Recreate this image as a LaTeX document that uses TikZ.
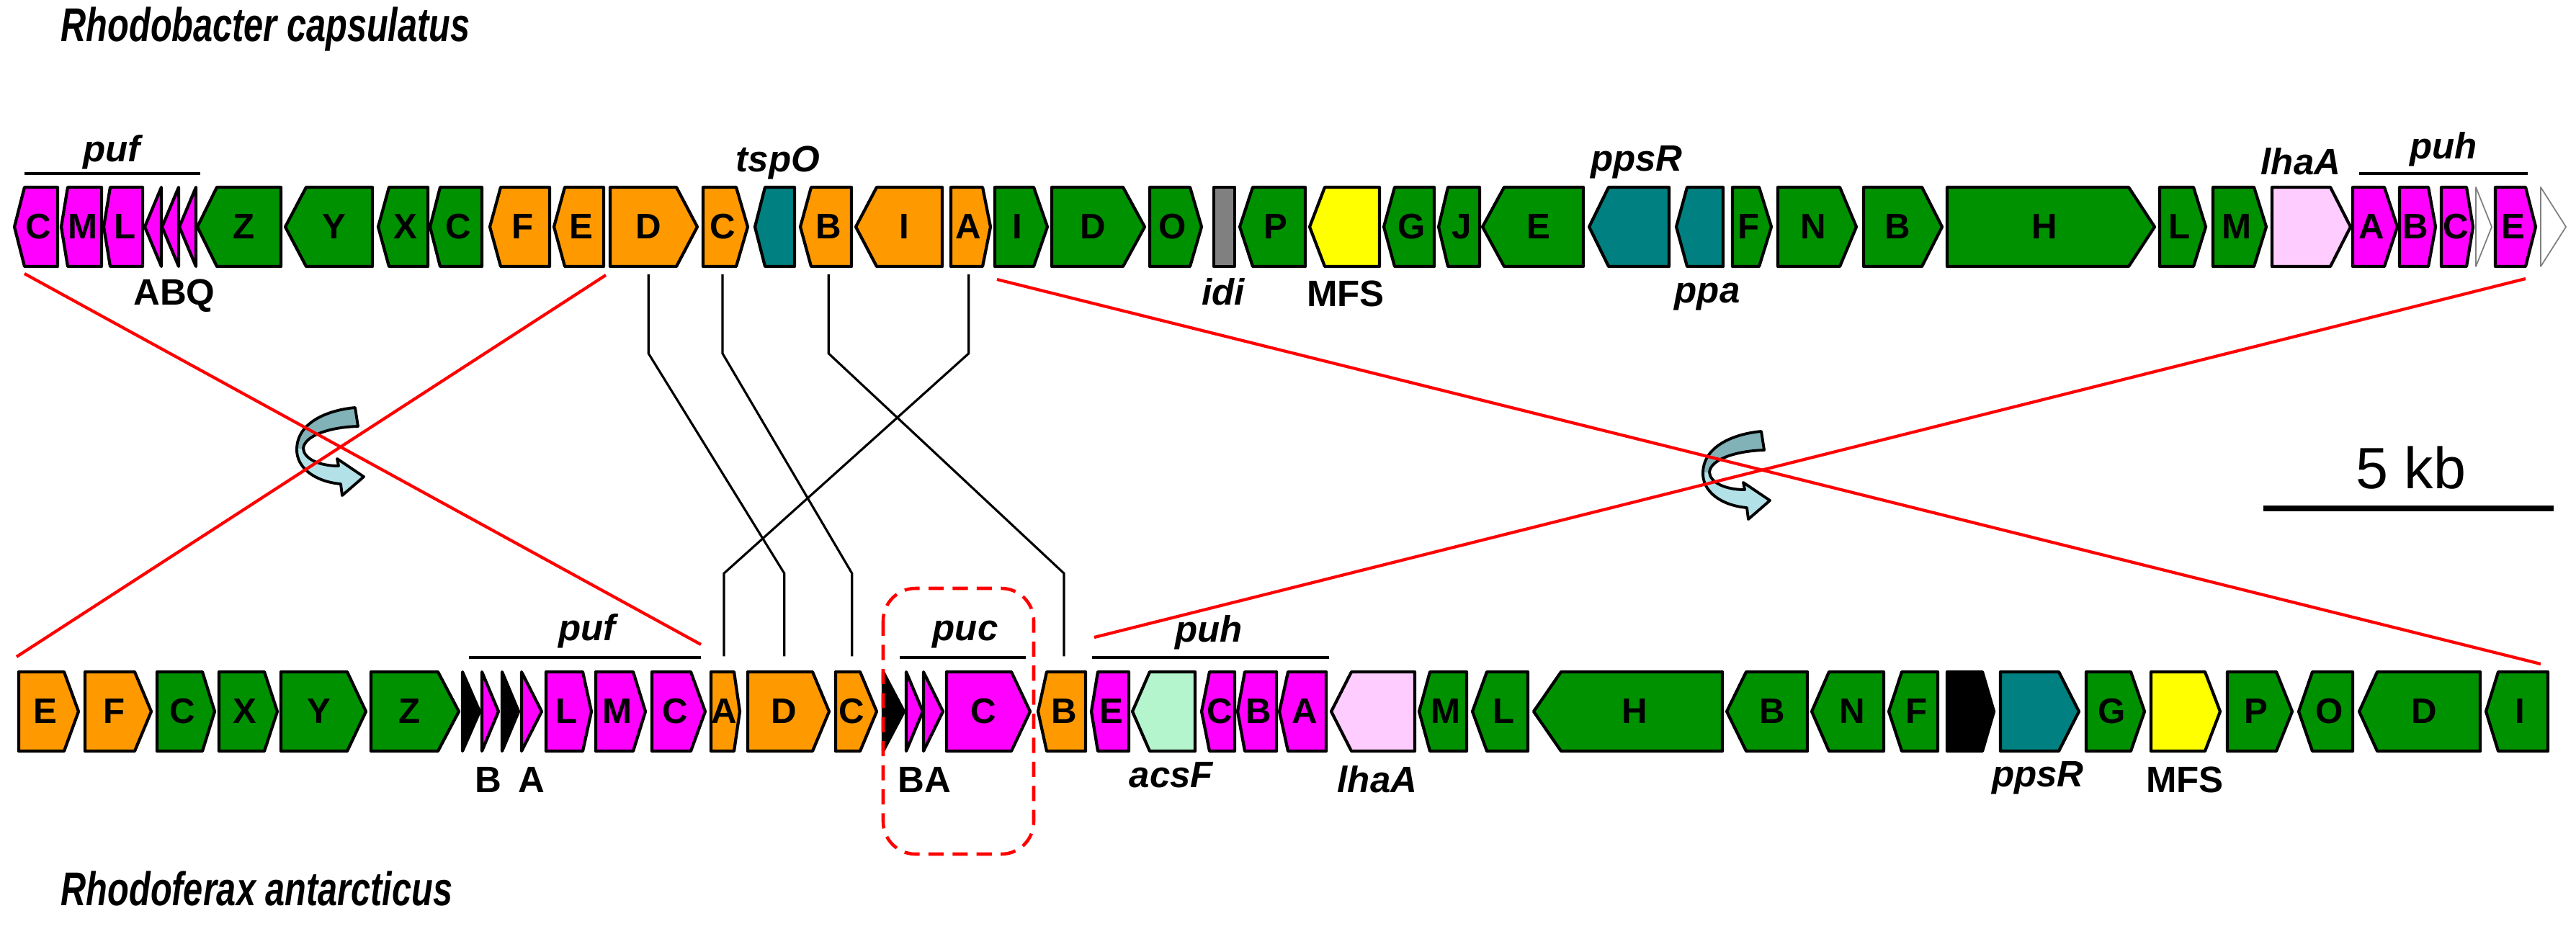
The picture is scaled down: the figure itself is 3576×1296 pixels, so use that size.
\documentclass[tikz,border=0pt]{standalone}
\usepackage{fontspec}
\setmainfont{Liberation Sans}
\usepackage{graphicx}
\usepackage{tikz}

\definecolor{gmag}{RGB}{255,0,255}
\definecolor{ggreen}{RGB}{0,145,0}
\definecolor{gorange}{RGB}{255,153,0}
\definecolor{gteal}{RGB}{0,128,128}
\definecolor{gyellow}{RGB}{255,255,0}
\definecolor{gpink}{RGB}{255,204,255}
\definecolor{gmint}{RGB}{180,245,205}
\definecolor{ggrey}{RGB}{128,128,128}
\definecolor{flipdark}{RGB}{128,178,184}
\definecolor{fliplight}{RGB}{178,226,232}

\tikzset{
  gene/.style={draw=black, line width=1.2pt, line join=round},
  pgc/.style={fill=gmag}, bch/.style={fill=ggreen}, crt/.style={fill=gorange},
  reg/.style={fill=gteal}, mfs/.style={fill=gyellow}, lha/.style={fill=gpink},
  acs/.style={fill=gmint}, idi/.style={fill=ggrey}, unk/.style={fill=black},
  hyp/.style={fill=white, draw=gray, line width=0.5pt},
  gtxt/.style={inner sep=0pt, minimum height=1.1cm, font=\fontsize{14}{16}\selectfont\bfseries},
  glabel/.style={inner sep=0pt, anchor=base, font=\fontsize{14.5}{17}\selectfont\bfseries\itshape},
  gname/.style={inner sep=0pt, anchor=base, font=\fontsize{14.5}{17}\selectfont\bfseries},
  title/.style={inner sep=0pt, anchor=base west, font=\fontsize{18.7}{22}\selectfont\bfseries\itshape},
  opbar/.style={line width=1.4pt},
  genelink/.style={line width=0.9pt},
  invline/.style={red, line width=1.2pt},
  pucbox/.style={red, line width=1.3pt, rounded corners=0.45cm, dash pattern=on 6pt off 3.5pt},
}

% gene pointing right: name, left, right, tip, kind, letter
\newcommand{\gfw}[6]{%
  \draw[gene,#5] (#2,\ry-\hh) -- (#3-#4,\ry-\hh) -- (#3,\ry) -- (#3-#4,\ry+\hh) -- (#2,\ry+\hh) -- cycle;
  \path (#2/2+#3/2-#4/4,\ry) node (#1) [gtxt] {#6};}
% gene pointing left
\newcommand{\grv}[6]{%
  \draw[gene,#5] (#3,\ry-\hh) -- (#2+#4,\ry-\hh) -- (#2,\ry) -- (#2+#4,\ry+\hh) -- (#3,\ry+\hh) -- cycle;
  \path (#2/2+#3/2+#4/4,\ry) node (#1) [gtxt] {#6};}
% inversion symbol
\newcommand{\flipsym}[2]{%
  \begin{scope}[shift={(#1,#2)}]
    \fill[flipdark] (85,1) .. controls (50,4) and (5,20) .. (4,58) -- (13,58) .. controls (14,40) and (50,28) .. (89,27) -- cycle;
    \fill[fliplight] (4,58) .. controls (3,85) and (30,104) .. (65,107) -- (67,123) -- (97,97) -- (60,72) -- (62,82) .. controls (35,82) and (14,72) .. (13,58) -- cycle;
    \draw[line width=1.1pt, line join=round] (85,1) .. controls (50,4) and (5,20) .. (4,58) .. controls (3,85) and (30,104) .. (65,107) -- (67,123) -- (97,97) -- (60,72) -- (62,82) .. controls (35,82) and (14,72) .. (13,58) .. controls (14,40) and (50,28) .. (89,27) -- cycle;
  \end{scope}}

\begin{document}
\begin{tikzpicture}[x=0.01cm,y=-0.01cm]
\useasboundingbox (0,0) rectangle (3576,1296);

\path (84,57) node (rcap) [title] {\scalebox{0.74}[1]{Rhodobacter capsulatus}};
\path (84,1257) node (rant) [title] {\scalebox{0.74}[1]{Rhodoferax antarcticus}};

% Rhodobacter capsulatus
\def\ry{315}\def\hh{55}
\grv{tpufC}{20}{80}{14}{pgc}{C}
\grv{tpufM}{85}{141}{9}{pgc}{M}
\grv{tpufL}{144}{198}{9}{pgc}{L}
\grv{tpufA}{201}{224}{23}{pgc}{}
\grv{tpufB}{225}{248}{23}{pgc}{}
\grv{tpufQ}{249}{272}{23}{pgc}{}
\grv{tbchZ}{274}{390}{27}{bch}{Z}
\grv{tbchY}{396}{517}{29}{bch}{Y}
\grv{tbchX}{525}{594}{15}{bch}{X}
\grv{tbchC}{597}{669}{14}{bch}{C}
\grv{tcrtF}{680}{763}{15}{crt}{F}
\grv{tcrtE}{769}{838}{15}{crt}{E}
\gfw{tcrtD}{847}{968}{29}{crt}{D}
\gfw{tcrtC}{976}{1038}{16}{crt}{C}
\grv{ttspO}{1048}{1103}{14}{reg}{}
\grv{tcrtB}{1111}{1182}{15}{crt}{B}
\grv{tcrtI}{1188}{1308}{29}{crt}{I}
\gfw{tcrtA}{1320}{1375}{11}{crt}{A}
\gfw{tbchI}{1381}{1454}{19}{bch}{I}
\gfw{tbchD}{1460}{1589}{30}{bch}{D}
\gfw{tbchO}{1596}{1668}{16}{bch}{O}
\gfw{tidi}{1685}{1714}{0}{idi}{}
\grv{tbchP}{1721}{1812}{18}{bch}{P}
\grv{tmfs}{1818}{1915}{21}{mfs}{}
\grv{tbchG}{1921}{1991}{15}{bch}{G}
\grv{tbchJ}{1997}{2054}{13}{bch}{J}
\grv{tbchE}{2058}{2198}{30}{bch}{E}
\grv{tppsR}{2206}{2317}{27}{reg}{}
\grv{tppa}{2327}{2392}{15}{reg}{}
\gfw{tbchF}{2405}{2459}{17}{bch}{F}
\gfw{tbchN}{2468}{2577}{23}{bch}{N}
\gfw{tbchB}{2587}{2696}{28}{bch}{B}
\gfw{tbchH}{2703}{2991}{36}{bch}{H}
\gfw{tbchL}{2998}{3062}{17}{bch}{L}
\gfw{tbchM}{3072}{3146}{17}{bch}{M}
\gfw{tlhaA}{3154}{3263}{28}{lha}{}
\gfw{tpuhA}{3266}{3328}{18}{pgc}{A}
\gfw{tpuhB}{3331}{3381}{10}{pgc}{B}
\gfw{tpuhC}{3389}{3433}{9}{pgc}{C}
\gfw{tpuhX}{3437}{3459}{22}{hyp}{}
\gfw{tpuhE}{3464}{3520}{14}{pgc}{E}
\gfw{tpuhY}{3527}{3562}{35}{hyp}{}

\draw[opbar] (34,241) -- (278,241);
\draw[opbar] (3275,241) -- (3509,241);
\path (155,224) node (lpufT) [glabel] {puf};
\path (3392,220) node (lpuhT) [glabel] {puh};
\path (1080,238) node (ltspO) [glabel] {tspO};
\path (2272,237) node (lppsRT) [glabel] {ppsR};
\path (3194,242) node (llhaAT) [glabel] {lhaA};
\path (242,423) node (lABQ) [gname] {ABQ};
\path (1698,423) node (lidi) [glabel] {idi};
\path (1868,425) node (lmfsT) [gname] {MFS};
\path (2370,420) node (lppa) [glabel] {ppa};

% Rhodoferax antarcticus
\def\ry{988}\def\hh{55}
\gfw{bcrtE}{26}{109}{20}{crt}{E}
\gfw{bcrtF}{118}{210}{23}{crt}{F}
\gfw{bbchC}{218}{298}{17}{bch}{C}
\gfw{bbchX}{304}{385}{18}{bch}{X}
\gfw{bbchY}{390}{508}{26}{bch}{Y}
\gfw{bbchZ}{515}{637}{29}{bch}{Z}
\gfw{bunkA}{642}{666}{24}{unk}{}
\gfw{bpufB}{669}{692}{23}{pgc}{}
\gfw{bunkB}{697}{720}{23}{unk}{}
\gfw{bpufA}{724}{752}{28}{pgc}{}
\gfw{bpufL}{758}{821}{12}{pgc}{L}
\gfw{bpufM}{827}{896}{17}{pgc}{M}
\gfw{bpufC}{905}{979}{20}{pgc}{C}
\gfw{bcrtA}{987}{1027}{8}{crt}{A}
\gfw{bcrtD}{1038}{1151}{23}{crt}{D}
\gfw{bcrtC}{1160}{1217}{23}{crt}{C}
\gfw{bunkC}{1226}{1255}{29}{unk}{}
\gfw{bpucB}{1258}{1281}{23}{pgc}{}
\gfw{bpucA}{1282}{1309}{27}{pgc}{}
\gfw{bpucC}{1314}{1430}{26}{pgc}{C}
\grv{bcrtB}{1441}{1507}{12}{crt}{B}
\grv{bpuhE}{1515}{1567}{9}{pgc}{E}
\grv{bacsF}{1572}{1659}{24}{acs}{}
\grv{bpuhC}{1668}{1714}{11}{pgc}{C}
\grv{bpuhB}{1718}{1772}{10}{pgc}{B}
\grv{bpuhA}{1776}{1841}{12}{pgc}{A}
\grv{blhaA}{1848}{1964}{28}{lha}{}
\grv{bbchM}{1970}{2036}{15}{bch}{M}
\grv{bbchL}{2044}{2121}{20}{bch}{L}
\grv{bbchH}{2129}{2391}{38}{bch}{H}
\grv{bbchB}{2397}{2509}{27}{bch}{B}
\grv{bbchN}{2515}{2615}{24}{bch}{N}
\grv{bbchF}{2622}{2690}{18}{bch}{F}
\gfw{bunkD}{2703}{2768}{16}{unk}{}
\gfw{bppsR}{2777}{2886}{28}{reg}{}
\gfw{bbchG}{2896}{2977}{19}{bch}{G}
\gfw{bmfs}{2986}{3082}{21}{mfs}{}
\gfw{bbchP}{3092}{3182}{22}{bch}{P}
\grv{bbchO}{3191}{3266}{19}{bch}{O}
\grv{bbchD}{3275}{3443}{25}{bch}{D}
\grv{bbchI}{3451}{3537}{17}{bch}{I}

\draw[opbar] (651,913) -- (973,913);
\draw[opbar] (1249,913) -- (1424,913);
\draw[opbar] (1516,913) -- (1845,913);
\path (815,889) node (lpufB) [glabel] {puf};
\path (1340,889) node (lpuc) [glabel] {puc};
\path (1678,891) node (lpuhB) [glabel] {puh};
\path (678,1100) node (lBpuf) [gname] {B};
\path (738,1100) node (lApuf) [gname] {A};
\path (1283,1100) node (lBA) [gname] {BA};
\path (1626,1093) node (lacsF) [glabel] {acsF};
\path (1912,1100) node (llhaAB) [glabel] {lhaA};
\path (2829,1092) node (lppsRB) [glabel] {ppsR};
\path (3033,1100) node (lmfsB) [gname] {MFS};

% crt genes moved
\draw[genelink] ([yshift=-1mm]tcrtD.south) -- ([yshift=-12mm]tcrtD.south) -- ([yshift=13.6mm]bcrtD.north) -- ([yshift=2.1mm]bcrtD.north);
\draw[genelink] ([yshift=-1mm]tcrtC.south) -- ([yshift=-12mm]tcrtC.south) -- ([yshift=13.6mm]bcrtC.north) -- ([yshift=2.1mm]bcrtC.north);
\draw[genelink] ([yshift=-1mm]tcrtB.south) -- ([yshift=-12mm]tcrtB.south) -- ([yshift=13.6mm]bcrtB.north) -- ([yshift=2.1mm]bcrtB.north);
\draw[genelink] ([yshift=-1mm]tcrtA.south) -- ([yshift=-12mm]tcrtA.south) -- ([yshift=13.6mm]bcrtA.north) -- ([yshift=2.1mm]bcrtA.north);

% inversions
\flipsym{408}{565}
\flipsym{2360}{598}
\coordinate (pufTop) at (34,380);
\coordinate (pufBot) at (973,895);
\coordinate (crtTop) at (841,382);
\coordinate (crtBot) at (23,912);
\coordinate (bchTop) at (1384,388);
\coordinate (bchBot) at (3527,922);
\coordinate (puhTop) at (3506,387);
\coordinate (puhBot) at (1519,885);
\draw[invline] (pufTop) -- (pufBot);
\draw[invline] (crtTop) -- (crtBot);
\draw[invline] (bchTop) -- (bchBot);
\draw[invline] (puhTop) -- (puhBot);

\draw[pucbox] (1226,817) rectangle (1435,1186);

% scale
\path (3347,678) node (kb) [inner sep=0pt, anchor=base, font=\fontsize{23}{26}\selectfont] {5 kb};
\draw[line width=2.3pt] (3142,706) -- (3545,706);
\end{tikzpicture}
\end{document}
